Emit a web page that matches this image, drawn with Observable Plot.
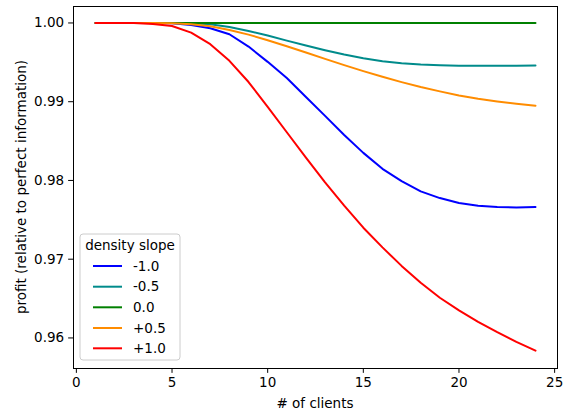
<!DOCTYPE html>
<html><head><meta charset="utf-8">
<script src="https://cdn.jsdelivr.net/npm/d3@7"></script>
<script src="https://cdn.jsdelivr.net/npm/@observablehq/plot@0.6"></script>
<style>body{margin:0;background:#fff;} svg{display:block;}</style>
</head><body><div id="chart"></div>
<script>
const clients = [1,2,3,4,5,6,7,8,9,10,11,12,13,14,15,16,17,18,19,20,21,22,23,24];
const slopes = ["-1.0","-0.5","0.0","+0.5","+1.0"];
const colors = ["#0000ff","#008b8b","#008000","#ff8c00","#ff0000"];
const slopeM10 = [1.0,1.0,1.0,0.99999,0.99995,0.99975,0.99933,0.99857,0.99700,0.99506,0.99300,0.99060,0.98820,0.98578,0.98350,0.98148,0.97991,0.97861,0.97776,0.97713,0.97680,0.97662,0.97658,0.97662];
const slopeM05 = [1.0,1.0,1.0,1.0,0.99999,0.99996,0.99983,0.99949,0.99899,0.99840,0.99776,0.99713,0.99654,0.99599,0.99553,0.99515,0.99489,0.99473,0.99464,0.99458,0.99456,0.99456,0.99458,0.99460];
const slope00 = [1.0,1.0,1.0,1.0,1.0,1.0,1.0,1.0,1.0,1.0,1.0,1.0,1.0,1.0,1.0,1.0,1.0,1.0,1.0,1.0,1.0,1.0,1.0,1.0];
const slopeP05 = [1.0,1.0,1.0,0.99999,0.99996,0.99983,0.99958,0.99911,0.99852,0.99781,0.99705,0.99624,0.99544,0.99464,0.99388,0.99316,0.99249,0.99186,0.99131,0.99080,0.99038,0.99004,0.98975,0.98949];
const slopeP10 = [1.0,1.0,1.0,0.99987,0.99962,0.99877,0.99730,0.99519,0.99250,0.98935,0.98612,0.98290,0.97976,0.97680,0.97400,0.97150,0.96915,0.96700,0.96510,0.96350,0.96205,0.96073,0.95950,0.95839];
const xTicks = [0,5,10,15,20,25];
const yTicks = [0.96,0.97,0.98,0.99,1.00];

const series = [slopeM10, slopeM05, slope00, slopeP05, slopeP10];
const rows = [];
series.forEach((vals, i) => vals.forEach((v, j) => rows.push({clients: clients[j], profit: v, slope: slopes[i]})));

const W = 568, H = 414, mL = 73, mR = 11, mT = 6, mB = 46;
const FS = 13.5;
const plot = Plot.plot({
  width: W, height: H,
  marginLeft: mL, marginRight: mR, marginTop: mT, marginBottom: mB,
  style: {fontFamily: "DejaVu Sans", fontSize: FS + "px", color: "black", background: "white"},
  x: {domain: [-0.15, 25.15], label: null},
  y: {domain: [0.95612, 1.00209], label: null},
  color: {domain: slopes, range: colors},
  marks: [
    Plot.axisX({ticks: xTicks, tickSize: 4.86, tickPadding: 4, tickFormat: d => String(d), label: null}),
    Plot.axisY({ticks: yTicks, tickSize: 4.86, tickPadding: 4.5, tickFormat: d3.format(".2f"), label: null}),
    Plot.line(rows, {x: "clients", y: "profit", stroke: "slope", z: "slope", strokeWidth: 2, curve: "linear"}),
    Plot.frame({stroke: "black", strokeWidth: 1})
  ]
});
document.getElementById("chart").appendChild(plot);

const svg = d3.select(plot);
svg.append("text").attr("x", (mL + W - mR) / 2).attr("y", 408)
  .attr("text-anchor", "middle").attr("font-family", "DejaVu Sans").attr("font-size", FS).attr("fill", "black")
  .text("# of clients");
svg.append("text").attr("transform", `translate(26,${(mT + H - mB) / 2}) rotate(-90)`)
  .attr("text-anchor", "middle").attr("font-family", "DejaVu Sans").attr("font-size", FS).attr("fill", "black")
  .text("profit (relative to perfect information)");

const lg = svg.append("g");
lg.append("rect").attr("x", 80).attr("y", 234).attr("width", 100).attr("height", 126).attr("rx", 3)
  .attr("fill", "white").attr("fill-opacity", 0.8).attr("stroke", "#cccccc").attr("stroke-width", 1);
lg.append("text").attr("x", 130).attr("y", 249.7).attr("text-anchor", "middle")
  .attr("font-family", "DejaVu Sans").attr("font-size", FS).attr("fill", "black").text("density slope");
const rowY = [266, 286.7, 307.3, 328, 348.3];
slopes.forEach((s, i) => {
  lg.append("line").attr("x1", 93).attr("x2", 122).attr("y1", rowY[i]).attr("y2", rowY[i])
    .attr("stroke", colors[i]).attr("stroke-width", 2);
  lg.append("text").attr("x", 133).attr("y", rowY[i] + 4.7).attr("text-anchor", "start")
    .attr("font-family", "DejaVu Sans").attr("font-size", FS).attr("fill", "black").text(s);
});
</script>
</body></html>
